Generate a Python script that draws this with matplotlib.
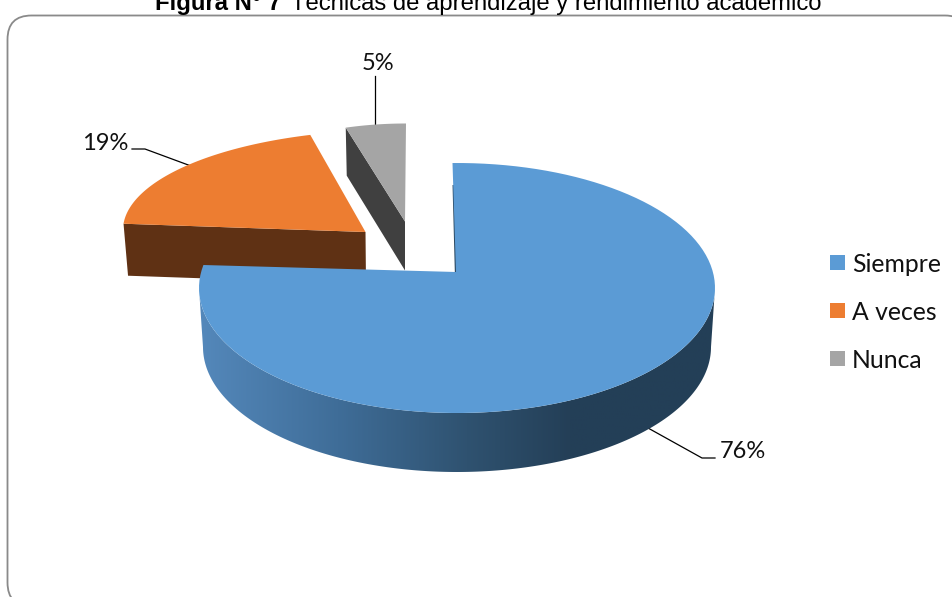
# Figura N 7: pastel 3D con porciones separadas, dibujado en coordenadas de pixel
import numpy as np
import matplotlib
matplotlib.use('Agg')
import matplotlib.pyplot as plt
from matplotlib.colors import LinearSegmentedColormap
from matplotlib.patches import FancyBboxPatch, Polygon, Rectangle

categories = ['Siempre', 'A veces', 'Nunca']
values = [76, 19, 5]
labels = ['76%', '19%', '5%']
colors = ['#5B9BD5', '#ED7D31', '#A5A5A5']

W, H = 953, 597
fig = plt.figure(figsize=(W / 100, H / 100), dpi=100)
ax = fig.add_axes([0, 0, 1, 1])
ax.axis('off')


def arc(cx, cy, rx, ry, a0, a1, n=120):
    # angulos en grados, en sentido horario desde arriba
    t = np.radians(np.linspace(a0, a1, n))
    return np.column_stack([cx + rx * np.sin(t), cy - ry * np.cos(t)])


# marco redondeado, se sale de la imagen por abajo y a la derecha
ax.add_patch(FancyBboxPatch((31.5, 39.5), 913.5, 543, boxstyle='round,pad=24,rounding_size=24',
                            fc='white', ec='#8A8A8A', lw=1.3, clip_on=False, zorder=0))

# titulo cortado por el borde superior
ax.text(155, 10, 'Figura N° 7', family='Liberation Sans', weight='bold', fontsize=17.2, color='black')
ax.text(291, 10, 'Técnicas de aprendizaje y rendimiento académico', family='Liberation Sans',
        fontsize=17.2, color='black')

edges = np.cumsum([0] + values) * 3.6

# porcion naranja
top = arc(394, 230, 271, 100, edges[1], edges[2])
apex = np.array([365.5, 232.0])
ax.add_patch(Polygon([top[0], apex, apex + [0.5, 52], top[0] + [4.5, 52]], fc='#5F3114', ec='none'))
ax.add_patch(Polygon(np.vstack([top, apex]), fc=colors[1], ec='none'))

# porcion gris
top = arc(406, 208.5, 195, 85, edges[2], edges[3])
apex = np.array([405.0, 221.5])
ax.add_patch(Polygon([top[0], top[0] + [1, 48], apex + [0, 49], apex], fc='#404040', ec='none'))
ax.add_patch(Polygon(np.vstack([top, apex]), fc=colors[2], ec='none'))

# porcion azul: pared lateral con degradado y luego la cara superior
cx, cy, rx, ry = 457, 288, 258, 125
depth = 59
wall = LinearSegmentedColormap.from_list('wall', [(0, '#5488BB'), (0.27, '#3F6D98'), (0.52, '#2F5270'),
                                                  (0.72, '#243F57'), (1, '#233F57')])
up = arc(cx, cy, rx, ry, 90, 270, 260)
down = arc(cx, cy + depth, rx - 4, ry, 90, 270, 260)
clip = Polygon(np.vstack([up, down[::-1]]), fc='none', ec='none')
ax.add_patch(clip)
im = ax.imshow(np.linspace(0, 1, 512).reshape(1, -1), cmap=wall, aspect='auto', interpolation='bilinear',
               extent=(cx - rx, cx + rx, cy + depth + ry, cy - ry), zorder=1.5)
im.set_clip_path(clip)

# el extremo se abre unos grados por la perspectiva del grafico original
top = arc(cx, cy, rx, ry, -1, edges[1] + 7)
apex = np.array([456.0, 272.0])
ax.plot([453.5, 455.8], [185, 272], color='#2C4A63', lw=1.4, solid_capstyle='butt', zorder=2)
ax.add_patch(Polygon(np.vstack([top, apex]), fc=colors[0], ec='none', zorder=3))

# lineas guia y etiquetas
ax.plot([648, 702, 715], [428, 458, 458], color='black', lw=0.9, zorder=0.5)
ax.plot([191, 145, 132], [166, 149, 149], color='black', lw=0.9, zorder=0.5)
ax.plot([375, 375], [125, 76], color='black', lw=0.9, zorder=0.5)
ax.text(720, 450, labels[0], family='Lato', fontsize=17, ha='left', va='center_baseline', color='#111111')
ax.text(128, 142, labels[1], family='Lato', fontsize=17, ha='right', va='center_baseline', color='#111111')
ax.text(378, 61, labels[2], family='Lato', fontsize=17, ha='center', va='center_baseline', color='#111111')

# leyenda
for i, (name, c) in enumerate(zip(categories, colors)):
    y = 255 + 48 * i
    ax.add_patch(Rectangle((830, y), 15, 15, fc=c, ec='none'))
    ax.text(852, y + 7.5, name, family='Lato', fontsize=17.8, ha='left', va='center_baseline', color='#111111')

ax.set_xlim(0, W)
ax.set_ylim(H, 0)
fig.savefig('out.png', dpi=100)
